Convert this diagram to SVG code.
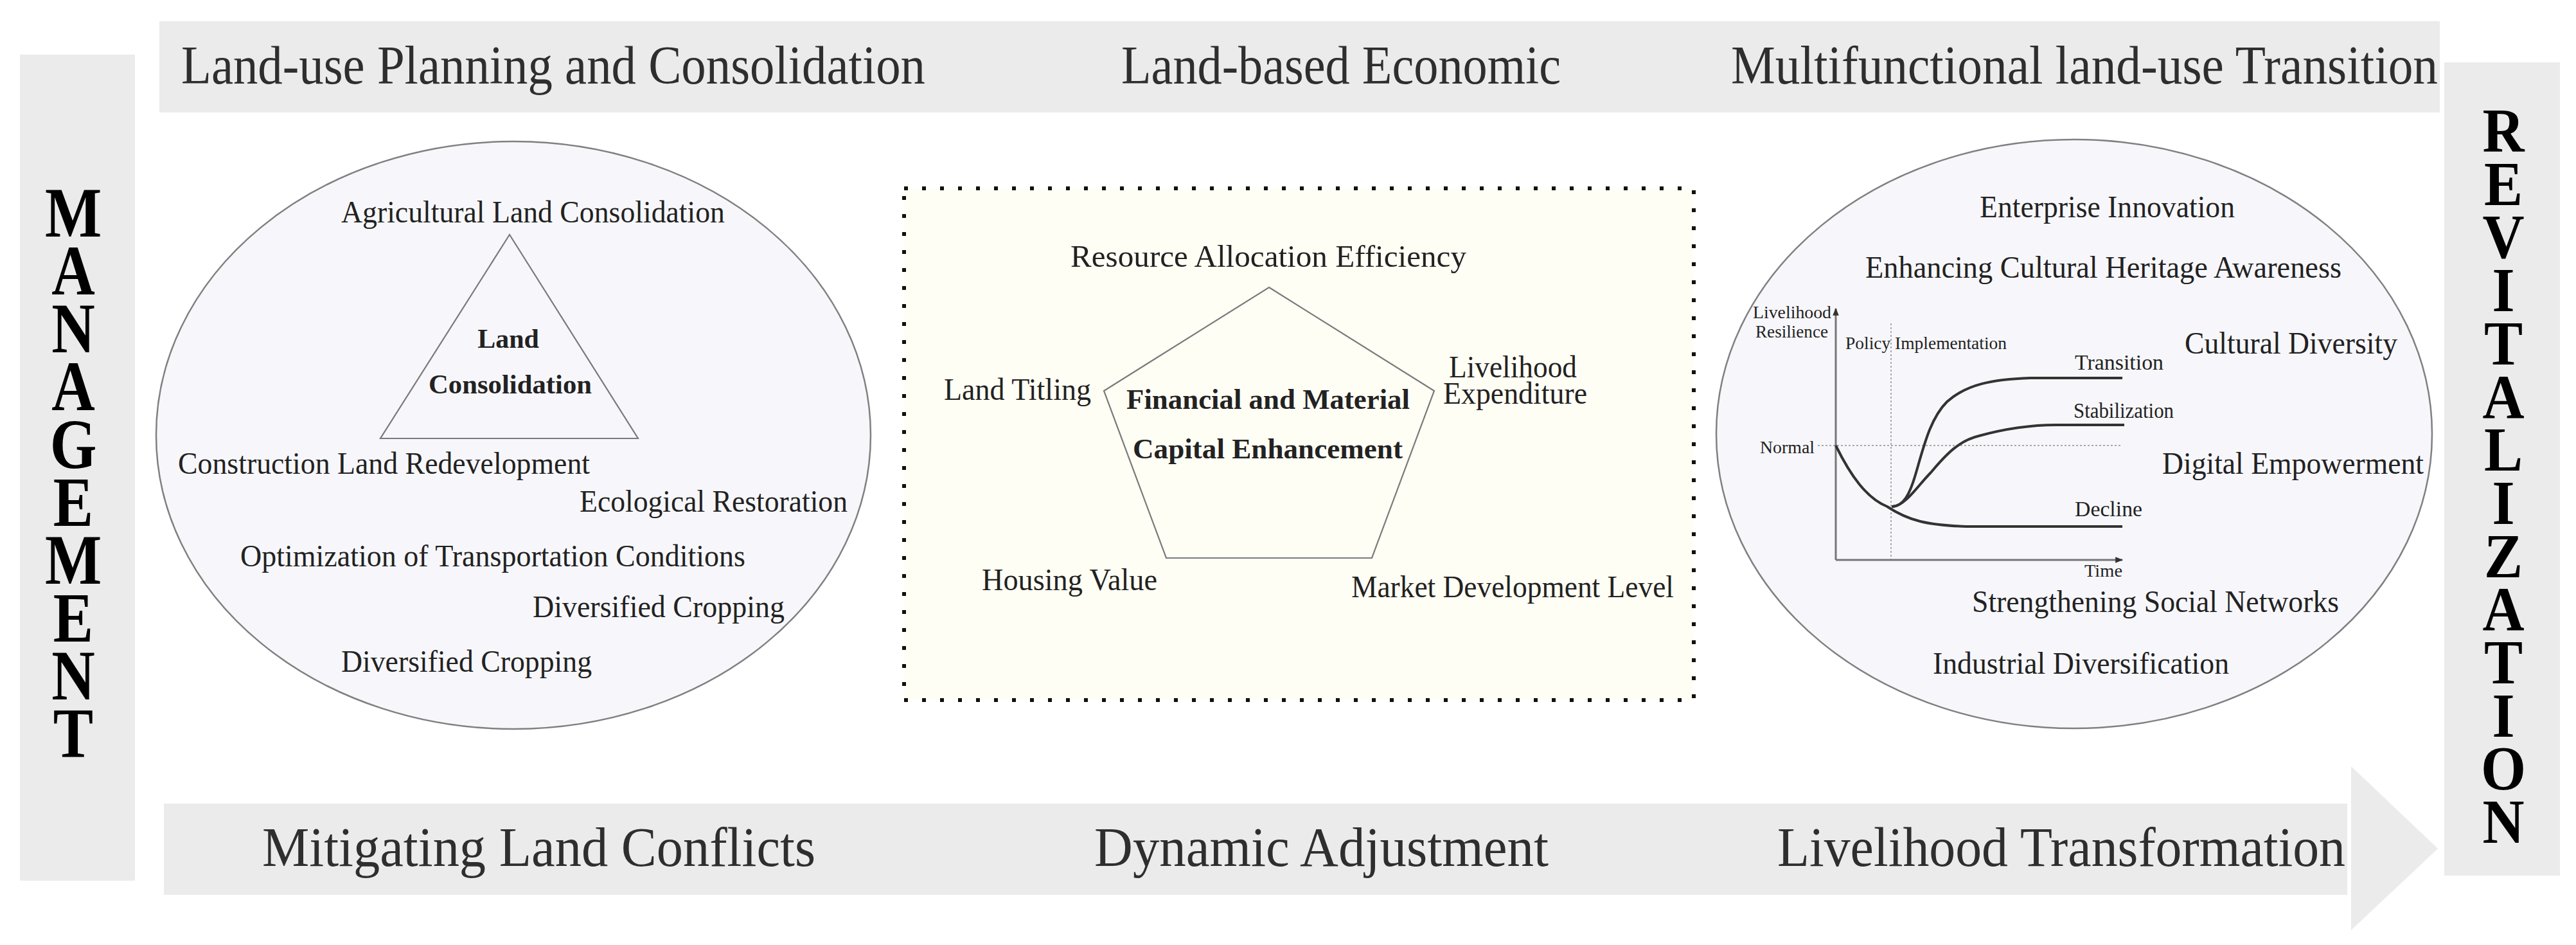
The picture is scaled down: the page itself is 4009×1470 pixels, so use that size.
<svg xmlns="http://www.w3.org/2000/svg" width="4009" height="1470" viewBox="0 0 4009 1470">
<style>
.band{fill:#ebebeb}
.title{font-family:"Liberation Serif","Times New Roman",serif;fill:#2e2e2e}
.t84{font-size:84px}
.t86{font-size:86px}
.lbl{font-family:"Liberation Serif","Times New Roman",serif;font-size:48px;fill:#222}
.bold{font-family:"Liberation Serif","Times New Roman",serif;font-weight:bold;fill:#222}
.small{font-family:"Liberation Serif","Times New Roman",serif;font-size:28px;fill:#222}
.mid{font-family:"Liberation Serif","Times New Roman",serif;font-size:33px;fill:#222}
.ell{fill:#f7f7fb;stroke:#808080;stroke-width:2.5}
.shape{fill:none;stroke:#7a7a7a;stroke-width:2.2}
.vert{font-family:"Liberation Serif","Times New Roman",serif;font-weight:bold;fill:#000;text-anchor:middle}
.axis{fill:none;stroke:#777;stroke-width:3}
.curve{fill:none;stroke:#333;stroke-width:4}
.dot{fill:none;stroke:#aaa;stroke-width:2;stroke-dasharray:3 3}
</style>
<defs>
<marker id="ah" viewBox="0 0 10 10" refX="9" refY="5" markerWidth="4" markerHeight="4" orient="auto" markerUnits="strokeWidth">
<path d="M0,1 L10,5 L0,9 Z" fill="#333"/>
</marker>
</defs>
<rect width="4009" height="1470" fill="#ffffff"/>

<g id="management">
<rect class="band" x="31" y="85" width="179" height="1285"/>
<g transform="translate(114,0) scale(0.85,1)">
<text class="vert" font-size="110"><tspan x="0" y="368">M</tspan><tspan x="0" y="458">A</tspan><tspan x="0" y="548">N</tspan><tspan x="0" y="638">A</tspan><tspan x="0" y="728">G</tspan><tspan x="0" y="818">E</tspan><tspan x="0" y="908">M</tspan><tspan x="0" y="998">E</tspan><tspan x="0" y="1088">N</tspan><tspan x="0" y="1178">T</tspan></text>
</g>
</g>

<g id="revitalization">
<rect class="band" x="3804" y="97" width="180" height="1265"/>
<g transform="translate(3896,0) scale(0.92,1)">
<text class="vert" font-size="98"><tspan x="0" y="236">R</tspan><tspan x="0" y="319">E</tspan><tspan x="0" y="401">V</tspan><tspan x="0" y="484">I</tspan><tspan x="0" y="567">T</tspan><tspan x="0" y="650">A</tspan><tspan x="0" y="732">L</tspan><tspan x="0" y="815">I</tspan><tspan x="0" y="898">Z</tspan><tspan x="0" y="980">A</tspan><tspan x="0" y="1063">T</tspan><tspan x="0" y="1146">I</tspan><tspan x="0" y="1228">O</tspan><tspan x="0" y="1311">N</tspan></text>
</g>
</g>

<g id="top-band">
<rect class="band" x="248" y="33" width="3549" height="142"/>
<text class="title t84" x="282" y="130" textLength="1158" lengthAdjust="spacingAndGlyphs">Land-use Planning and Consolidation</text>
<text class="title t84" x="1745" y="130" textLength="684" lengthAdjust="spacingAndGlyphs">Land-based Economic</text>
<text class="title t84" x="2694" y="130" textLength="1100" lengthAdjust="spacingAndGlyphs">Multifunctional land-use Transition</text>
</g>

<g id="bottom-band">
<rect class="band" x="255" y="1250" width="3398" height="142"/>
<text class="title t86" x="408" y="1347" textLength="861" lengthAdjust="spacingAndGlyphs">Mitigating Land Conflicts</text>
<text class="title t86" x="1703" y="1347" textLength="707" lengthAdjust="spacingAndGlyphs">Dynamic Adjustment</text>
<text class="title t86" x="2766" y="1347" textLength="884" lengthAdjust="spacingAndGlyphs">Livelihood Transformation</text>
</g>

<g id="land-consolidation">
<ellipse class="ell" cx="799" cy="677" rx="556" ry="457"/>
<polygon class="shape" points="793,365 592,682 993,682"/>
<text class="bold" font-size="42" x="791" y="541" text-anchor="middle">Land</text>
<text class="bold" font-size="42" x="667" y="612" textLength="254" lengthAdjust="spacingAndGlyphs">Consolidation</text>
<text class="lbl" x="531" y="346" textLength="597" lengthAdjust="spacingAndGlyphs">Agricultural Land Consolidation</text>
<text class="lbl" x="277" y="737" textLength="641" lengthAdjust="spacingAndGlyphs">Construction Land Redevelopment</text>
<text class="lbl" x="902" y="796" textLength="417" lengthAdjust="spacingAndGlyphs">Ecological Restoration</text>
<text class="lbl" x="374" y="881" textLength="786" lengthAdjust="spacingAndGlyphs">Optimization of Transportation Conditions</text>
<text class="lbl" x="829" y="960" textLength="392" lengthAdjust="spacingAndGlyphs">Diversified Cropping</text>
<text class="lbl" x="531" y="1045" textLength="390" lengthAdjust="spacingAndGlyphs">Diversified Cropping</text>
</g>

<g id="capital-enhancement">
<rect x="1407" y="293" width="1229" height="796" fill="#fffef5" stroke="#111" stroke-width="6" stroke-dasharray="6 22"/>
<polygon class="shape" points="1975,447 2232,608 2135,868 1815,868 1718,608"/>
<text class="bold" font-size="45" x="1753" y="636" textLength="441" lengthAdjust="spacingAndGlyphs">Financial and Material</text>
<text class="bold" font-size="45" x="1763" y="713" textLength="420" lengthAdjust="spacingAndGlyphs">Capital Enhancement</text>
<text class="lbl" x="1666" y="415" textLength="616" lengthAdjust="spacingAndGlyphs">Resource Allocation Efficiency</text>
<text class="lbl" x="1469" y="622" textLength="229" lengthAdjust="spacingAndGlyphs">Land Titling</text>
<text class="lbl" x="2255" y="587" textLength="199" lengthAdjust="spacingAndGlyphs">Livelihood</text>
<text class="lbl" x="2246" y="628" textLength="224" lengthAdjust="spacingAndGlyphs">Expenditure</text>
<text class="lbl" x="1528" y="918" textLength="273" lengthAdjust="spacingAndGlyphs">Housing Value</text>
<text class="lbl" x="2103" y="929" textLength="502" lengthAdjust="spacingAndGlyphs">Market Development Level</text>
</g>

<g id="land-use-transition">
<ellipse class="ell" cx="3228" cy="675" rx="557" ry="458"/>
<text class="lbl" x="3081" y="338" textLength="397" lengthAdjust="spacingAndGlyphs">Enterprise Innovation</text>
<text class="lbl" x="2903" y="432" textLength="741" lengthAdjust="spacingAndGlyphs">Enhancing Cultural Heritage Awareness</text>
<text class="lbl" x="3400" y="550" textLength="331" lengthAdjust="spacingAndGlyphs">Cultural Diversity</text>
<text class="lbl" x="3365" y="737" textLength="407" lengthAdjust="spacingAndGlyphs">Digital Empowerment</text>
<text class="lbl" x="3069" y="952" textLength="571" lengthAdjust="spacingAndGlyphs">Strengthening Social Networks</text>
<text class="lbl" x="3008" y="1048" textLength="461" lengthAdjust="spacingAndGlyphs">Industrial Diversification</text>
<g id="resilience-chart">
<line class="dot" x1="2943" y1="503" x2="2943" y2="870"/>
<line class="dot" x1="2829" y1="693" x2="3303" y2="693"/>
<path class="axis" d="M2857,871 L2857,480" marker-end="url(#ah)"/>
<path class="axis" d="M2857,871 L3303,871" marker-end="url(#ah)"/>
<path class="curve" d="M2857,693 C2880,740 2905,775 2937,788 C2970,810 3000,817 3060,819 L3303,819"/>
<path class="curve" d="M2944,788 C2962,788 2972,770 2982,735 C2995,690 3005,650 3030,625 C3060,598 3100,590 3160,588 L3303,588"/>
<path class="curve" d="M2946,788 C2966,786 2985,755 3005,735 C3030,705 3050,685 3080,678 C3120,667 3160,661 3200,661 L3306,661"/>
<text class="small" x="2728" y="495" textLength="122" lengthAdjust="spacingAndGlyphs">Livelihood</text>
<text class="small" x="2732" y="525" textLength="113" lengthAdjust="spacingAndGlyphs">Resilience</text>
<text class="small" x="2872" y="543" textLength="251" lengthAdjust="spacingAndGlyphs">Policy Implementation</text>
<text class="small" x="2739" y="705" textLength="85" lengthAdjust="spacingAndGlyphs">Normal</text>
<text class="mid" x="3229" y="575" textLength="138" lengthAdjust="spacingAndGlyphs">Transition</text>
<text class="mid" x="3227" y="650" textLength="156" lengthAdjust="spacingAndGlyphs">Stabilization</text>
<text class="mid" x="3229" y="803" textLength="105" lengthAdjust="spacingAndGlyphs">Decline</text>
<text class="small" x="3244" y="897" textLength="59" lengthAdjust="spacingAndGlyphs">Time</text>
</g>
</g>

<g id="connectors">
<polygon points="3659,1192 3794,1320 3659,1447" fill="#ebebeb"/>
</g>
</svg>
